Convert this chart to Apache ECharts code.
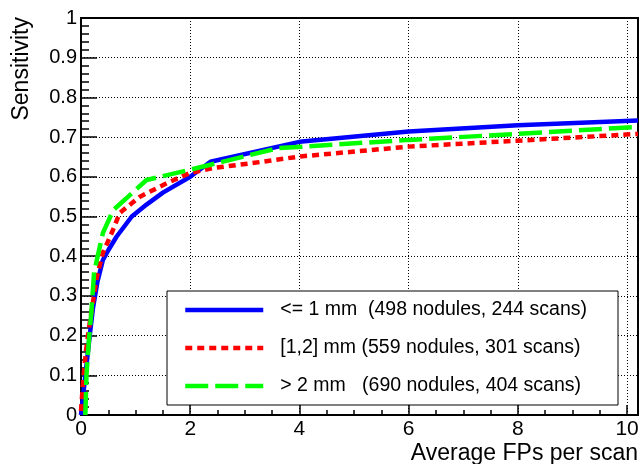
<!DOCTYPE html>
<html><head><meta charset="utf-8">
<script src="https://cdn.jsdelivr.net/npm/echarts@6/dist/echarts.min.js"></script>
<style>html,body{margin:0;padding:0;background:#fff}#c{width:639px;height:464px}</style>
</head><body><div id="c"></div>
<script>
// ---- data ----
const seriesNames = [
  "<= 1 mm  (498 nodules, 244 scans)",
  "[1,2] mm (559 nodules, 301 scans)",
  "> 2 mm   (690 nodules, 404 scans)"
];
const blueX = [0, 0.08, 0.16, 0.22, 0.30, 0.40, 0.5, 0.65, 0.93, 1.2, 1.5, 2.0, 2.37, 4.0, 6.0, 8.0, 10.2];
const blueY = [0, 0.1, 0.2, 0.27, 0.335, 0.39, 0.415, 0.449, 0.5, 0.53, 0.56, 0.6, 0.638, 0.688, 0.714, 0.73, 0.742];
const redX = [0, 0.04, 0.09, 0.16, 0.29, 0.40, 0.585, 0.71, 1.08, 1.57, 2.0, 2.41, 3.33, 4.0, 6.0, 8.0, 10.2];
const redY = [0.01, 0.088, 0.16, 0.232, 0.348, 0.408, 0.466, 0.509, 0.55, 0.584, 0.61, 0.622, 0.638, 0.651, 0.676, 0.691, 0.708];
const greenX = [0.08, 0.1, 0.14, 0.19, 0.24, 0.40, 0.59, 1.2, 2.0, 3.6, 6.0, 8.0, 10.2];
const greenY = [0, 0.1, 0.18, 0.26, 0.36, 0.458, 0.516, 0.592, 0.618, 0.672, 0.693, 0.708, 0.726];
const xTitle = "Average FPs per scan";
const yTitle = "Sensitivity";

const FONT = '"Liberation Sans", Arial, Helvetica, sans-serif';
const pairs = (xs, ys) => xs.map((x, i) => [x, ys[i]]);

const chart = echarts.init(document.getElementById('c'), null, {renderer: 'canvas'});
chart.setOption({
  animation: false,
  backgroundColor: '#fff',
  grid: {left: 81, right: 1, top: 18, bottom: 49, show: true, borderColor: '#000', borderWidth: 2,
         backgroundColor: 'transparent', containLabel: false, outerBoundsMode: 'none'},
  xAxis: [{
    type: 'value', min: 0, max: 10.2, interval: 2, position: 'bottom',
    axisLine: {show: true, onZero: false, lineStyle: {color: '#000', width: 2}},
    axisTick: {show: true, inside: true, length: 10, lineStyle: {color: '#000', width: 1.5}},
    minorTick: {show: false},
    splitLine: {show: true, lineStyle: {color: '#000', width: 1, type: [1, 2]}},
    axisLabel: {show: true, fontSize: 21, fontFamily: FONT, color: '#000', margin: 4, showMaxLabel: false}
  }, {
    type: 'value', min: 0, max: 10.2, interval: 0.5, position: 'bottom', offset: 0,
    axisLine: {show: false},
    axisTick: {show: true, inside: true, length: 5, lineStyle: {color: '#000', width: 1.5}},
    splitLine: {show: false},
    axisLabel: {show: false}
  }],
  yAxis: {
    type: 'value', min: 0, max: 1, interval: 0.1,
    axisLine: {show: true, onZero: false, lineStyle: {color: '#000', width: 2}},
    axisTick: {show: true, inside: true, length: 16, lineStyle: {color: '#000', width: 1.5}},
    minorTick: {show: true, splitNumber: 5, length: 8, lineStyle: {color: '#000', width: 1.5}},
    splitLine: {show: true, lineStyle: {color: '#000', width: 1, type: [1, 2]}},
    axisLabel: {fontSize: 20, fontFamily: FONT, color: '#000', margin: 4, padding: [6, 0, 0, 0]}
  },
  legend: {
    orient: 'vertical', left: 167, top: 291, align: 'left',
    backgroundColor: '#fff', borderColor: '#000', borderWidth: 1,
    padding: [9, 31, 9, 16], itemWidth: 78, itemHeight: 20, itemGap: 18,
    selectedMode: false,
    lineStyle: {width: 'inherit'},
    itemStyle: {color: 'rgba(0,0,0,0)', borderWidth: 0, opacity: 0},
    textStyle: {fontSize: 19.5, fontFamily: FONT, color: '#000', lineHeight: 20, padding: [0, 0, 0, 12]},
    data: seriesNames
  },
  graphic: [
    {type: 'text', x: 638, y: 454, z: 10,
     style: {text: xTitle, fontSize: 23, fontFamily: FONT, fill: '#000', align: 'right', verticalAlign: 'middle'}},
    {type: 'text', x: 22, y: 17, rotation: Math.PI / 2, z: 10,
     style: {text: yTitle, fontSize: 23, fontFamily: FONT, fill: '#000', align: 'right', verticalAlign: 'middle'}}
  ],
  series: [
    {name: seriesNames[0], type: 'line', data: pairs(blueX, blueY), showSymbol: false, symbol: 'none', clip: true,
     lineStyle: {color: '#0000ff', width: 4.5, type: 'solid'}, itemStyle: {color: '#0000ff'}},
    {name: seriesNames[1], type: 'line', data: pairs(redX, redY), showSymbol: false, symbol: 'none', clip: true,
     lineStyle: {color: '#ff0000', width: 4.5, type: [7, 5]}, itemStyle: {color: '#ff0000'}},
    {name: seriesNames[2], type: 'line', data: pairs(greenX, greenY), showSymbol: false, symbol: 'none', clip: true,
     lineStyle: {color: '#00ff00', width: 4.5, type: [23, 7]}, itemStyle: {color: '#00ff00'}}
  ]
});
</script></body></html>
